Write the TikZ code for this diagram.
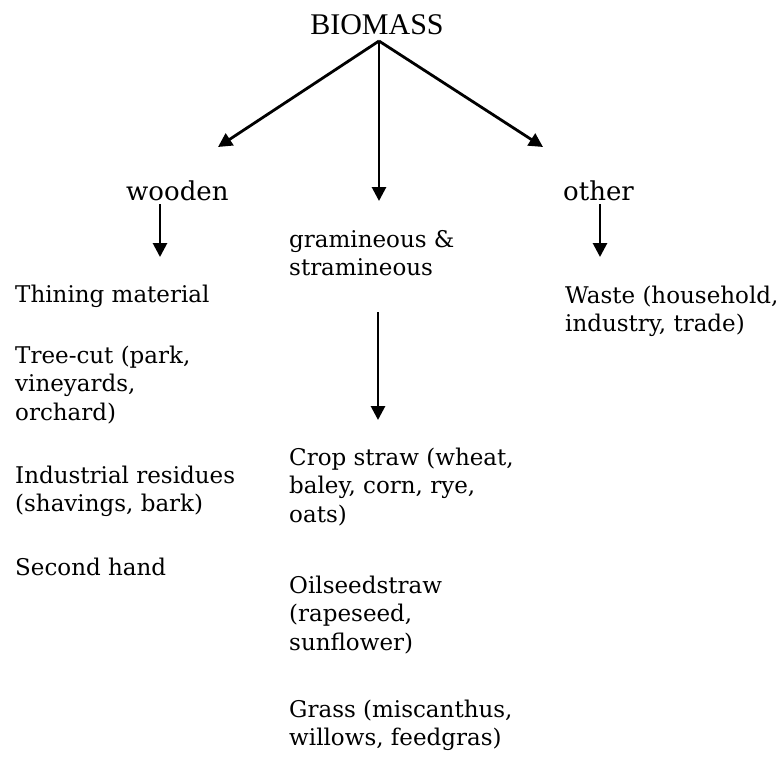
\documentclass[tikz,border=0pt]{standalone}
\usepackage{fontspec}
\setmainfont{DejaVu Serif}
\newfontfamily\titlefont{Liberation Serif}
\usetikzlibrary{arrows.meta}

\begin{document}
\begin{tikzpicture}[
			x = 1pt, y = -1pt,
			title/.style = {anchor = base, inner sep = 0pt, font = \titlefont\fontsize{30}{34}\selectfont},
			header/.style = {anchor = base west, inner sep = 0pt, font = \fontsize{26}{31}\selectfont},
			item/.style = {anchor = base west, inner sep = 0pt, align = left, font = \fontsize{23}{28.8}\selectfont},
			branch/.style = {line width = 2.8pt, -{Triangle[length = 14pt, width = 14pt]}}
		]
		\useasboundingbox (0,0) rectangle (783,758);
		% headings (multi-line items sit on the base of their last line)
		\node[title] (biomass) at (377,34) {BIOMASS};
		\node[header] (wooden) at (126,200) {wooden};
		\node[item] (gramineous) at (289,275.8) {gramineous \&\\stramineous};
		\node[header] (other) at (563,200) {other};

		\node[item] (thining) at (15,302) {Thining material};
		\node[item] (treecut) at (15,420.6) {Tree-cut (park,\\vineyards,\\orchard)};
		\node[item] (industrial) at (15,511.8) {Industrial residues\\(shavings, bark)};
		\node[item] (secondhand) at (15,575) {Second hand};

		\node[item] (cropstraw) at (289,522.6) {Crop straw (wheat,\\baley, corn, rye,\\oats)};
		\node[item] (oilseed) at (289,650.6) {Oilseedstraw\\(rapeseed,\\sunflower)};
		\node[item] (grass) at (289,745.8) {Grass (miscanthus,\\willows, feedgras)};

		\node[item] (waste) at (565,331.8) {Waste (household,\\industry, trade)};

		\coordinate (fork) at (379,41);
		\coordinate (wooden-tip) at (218,147);
		\coordinate (gramineous-tip) at (379,201);
		\coordinate (other-tip) at (543,147);
		\foreach \tip in {wooden-tip, gramineous-tip, other-tip}
			\draw[branch] (fork) -- (\tip);

		\coordinate (wooden-start) at (160,204);
		\coordinate (wooden-end) at (160,257);
		\coordinate (other-start) at (600,204);
		\coordinate (other-end) at (600,257);
		\coordinate (straw-start) at (378,312);
		\coordinate (straw-end) at (378,420);
		\draw[branch] (wooden-start) -- (wooden-end);
		\draw[branch] (other-start) -- (other-end);
		\draw[branch] (straw-start) -- (straw-end);
\end{tikzpicture}
\end{document}
